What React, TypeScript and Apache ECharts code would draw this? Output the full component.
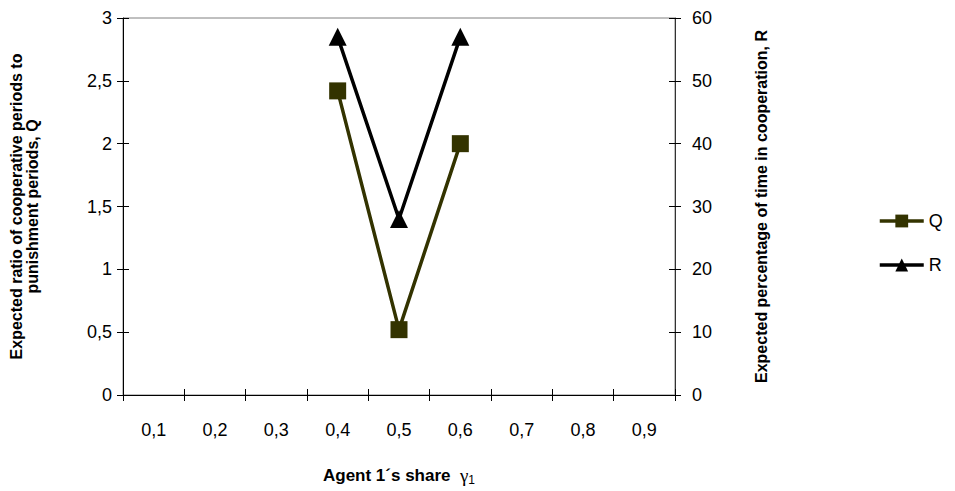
import React, { useEffect, useRef } from "react";
import * as echarts from "echarts";

const categories = ["0,1", "0,2", "0,3", "0,4", "0,5", "0,6", "0,7", "0,8", "0,9"];
const qValues = [null, null, null, 2.42, 0.52, 2.0, null, null, null];
const rValues = [null, null, null, 57, 28, 57, null, null, null];

const FONT = "'Liberation Sans', Arial, sans-serif";
const comma = (v: number) => String(v).replace(".", ",");

export default function App() {
  const ref = useRef<HTMLDivElement>(null);
  useEffect(() => {
    if (!ref.current) return;
    const chart = echarts.init(ref.current, undefined, { renderer: "svg" });
    const tickLabel = { color: "#000", fontFamily: FONT, fontSize: 18 };
    const titleStyle = { color: "#000", fontFamily: FONT, fontSize: 16, fontWeight: "bold" as const };
    // second copy of each value axis carries the inner half of the cross ticks
    const innerTicksY = (min: number, max: number, interval: number, position: "left" | "right") => ({
      type: "value" as const,
      position,
      min,
      max,
      interval,
      axisLine: { show: false },
      axisTick: { show: true, inside: true, length: 6, lineStyle: { color: "#000", width: 1 } },
      axisLabel: { show: false },
      splitLine: { show: false },
    });
    chart.setOption({
      animation: false,
      grid: {
        left: 118,
        right: 280,
        top: 18,
        bottom: 87,
        show: true,
        borderColor: "#808080",
        borderWidth: 1,
      },
      legend: {
        orient: "vertical",
        left: 873,
        top: 207,
        itemWidth: 44,
        itemHeight: 16,
        itemGap: 26,
        lineStyle: { width: 3.5 },
        textStyle: { color: "#000", fontFamily: FONT, fontSize: 18 },
        data: ["Q", "R"],
      },
      xAxis: [
        {
          type: "category",
          data: categories,
          position: "bottom",
          boundaryGap: true,
          axisLine: { show: true, lineStyle: { color: "#000", width: 1 } },
          axisTick: { show: true, length: 6, lineStyle: { color: "#000" } },
          axisLabel: { ...tickLabel, margin: 26 },
          name: "{a|Agent 1´s share  }{g|γ}{s|1}",
          nameLocation: "middle",
          nameGap: 69,
          nameTextStyle: {
            rich: {
              a: { ...titleStyle, fontSize: 17 },
              g: { color: "#000", fontFamily: "'Liberation Serif', serif", fontSize: 19 },
              s: { color: "#000", fontFamily: FONT, fontSize: 12, padding: [10, 0, 0, 0] },
            },
          },
        },
        {
          type: "category",
          data: categories,
          position: "bottom",
          boundaryGap: true,
          axisLine: { show: false },
          axisTick: { show: true, inside: true, length: 6, lineStyle: { color: "#000" } },
          axisLabel: { show: false },
        },
      ],
      yAxis: [
        {
          type: "value",
          position: "left",
          min: 0,
          max: 3,
          interval: 0.5,
          axisLine: { show: true, lineStyle: { color: "#000", width: 1 } },
          axisTick: { show: true, length: 6, lineStyle: { color: "#000" } },
          axisLabel: { ...tickLabel, margin: 11, formatter: comma },
          splitLine: { show: false },
          name: "Expected ratio of cooperative periods to\npunishment periods, Q",
          nameLocation: "middle",
          nameGap: 83,
          nameTextStyle: { ...titleStyle, lineHeight: 16 },
        },
        {
          type: "value",
          position: "right",
          min: 0,
          max: 60,
          interval: 10,
          axisLine: { show: true, lineStyle: { color: "#333", width: 1 } },
          axisTick: { show: true, length: 6, lineStyle: { color: "#000" } },
          axisLabel: { ...tickLabel, margin: 17 },
          splitLine: { show: false },
          name: "Expected percentage of time in cooperation, R",
          nameLocation: "middle",
          nameGap: 78,
          nameRotate: 90,
          nameTextStyle: titleStyle,
        },
        innerTicksY(0, 3, 0.5, "left"),
        innerTicksY(0, 60, 10, "right"),
      ],
      series: [
        {
          name: "Q",
          type: "line",
          data: qValues,
          yAxisIndex: 0,
          symbol: "rect",
          symbolSize: 17,
          lineStyle: { color: "#333300", width: 3.5 },
          itemStyle: { color: "#333300" },
          connectNulls: false,
        },
        {
          name: "R",
          type: "line",
          data: rValues,
          yAxisIndex: 1,
          symbol: "triangle",
          symbolSize: 18,
          lineStyle: { color: "#000", width: 3.5 },
          itemStyle: { color: "#000" },
          connectNulls: false,
        },
      ],
    });
    return () => chart.dispose();
  }, []);
  return (
    <div
      ref={ref}
      style={{ position: "absolute", left: 0, top: 0, width: 955, height: 491 }}
    />
  );
}
